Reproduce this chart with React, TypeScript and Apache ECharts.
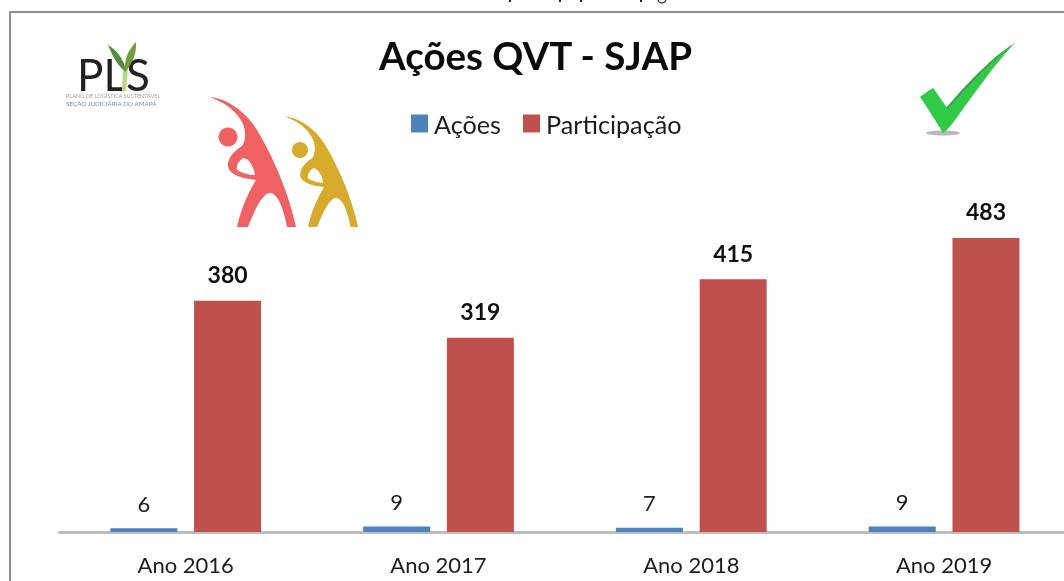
import React, { useEffect, useRef } from "react";
import * as echarts from "echarts";

const categories = ["Ano 2016", "Ano 2017", "Ano 2018", "Ano 2019"];
const acoes = [6, 9, 7, 9];
const participacao = [380, 319, 415, 483];
const titleText = "Ações QVT - SJAP";
const seriesNames = ["Ações", "Participação"];

const FIGURE =
  "M210,97 C225,98 245,110 257,130 C272,155 288,190 296,227 L287,227 C284,210 278,193 270,193 C262,193 254,212 248,227 L237,227 C242,205 250,190 256,180 C248,179 235,177 230,171 C224,163 232,152 242,146 C246,140 246,132 243,124 C236,110 225,103 210,97 Z " +
  "M243,158 C239,161 236,165 237,170 C242,173 249,175 255,175 C254,167 249,158 243,158 Z";
const CHECK =
  "M1015,43 C995,55 972,78 947,107 C942,102 938,94 933,88 C928,91 924,94 920,97 C928,108 936,122 943,133 C950,128 955,120 960,113 C977,90 998,60 1015,43 Z";
const CHECK_EDGE = "M1015,43 C995,55 972,78 947,107 L948,109 C973,81 996,57 1015,43 Z";
const LEAF_LEFT = "M108,45 C116,50 124,58 126,72 C118,67 112,55 108,45 Z";
const LEAF_RIGHT = "M136,42 C137,55 131,65 125,72 C124,60 128,50 136,42 Z";
const STEM = "M123,68 L128,68 L126,91 L122,91 Z";

echarts.graphic.registerShape("figureShape", echarts.graphic.extendPath(FIGURE, {}));
echarts.graphic.registerShape("checkShape", echarts.graphic.extendPath(CHECK, {}));
echarts.graphic.registerShape("checkEdge", echarts.graphic.extendPath(CHECK_EDGE, {}));
echarts.graphic.registerShape("leafLeft", echarts.graphic.extendPath(LEAF_LEFT, {}));
echarts.graphic.registerShape("leafRight", echarts.graphic.extendPath(LEAF_RIGHT, {}));
echarts.graphic.registerShape("stemShape", echarts.graphic.extendPath(STEM, {}));

const FONT = "Lato, 'Open Sans', sans-serif";

export default function App() {
  const ref = useRef<HTMLDivElement>(null);
  useEffect(() => {
    document.body.style.margin = "0";
    const chart = echarts.init(ref.current!, undefined, { renderer: "svg" });
    chart.setOption({
      animation: false,
      backgroundColor: "#ffffff",
      title: {
        text: titleText,
        left: 530.5,
        top: 30,
        textAlign: "center",
        textStyle: { fontFamily: FONT, fontWeight: "bold", fontSize: 38.5, color: "#0a0a0a" },
      },
      legend: {
        data: seriesNames,
        left: 406,
        top: 106,
        icon: "rect",
        itemWidth: 17,
        itemHeight: 18,
        itemGap: 22,
        textStyle: { fontFamily: FONT, fontSize: 25.2, color: "#1c1c1c", padding: [0, 0, 0, 1] },
      },
      grid: { left: 59.3, top: 45, width: 1011.2, height: 487 },
      xAxis: {
        type: "category",
        data: categories,
        axisTick: { show: false },
        axisLine: { lineStyle: { color: "#bdbdbd", width: 3 } },
        axisLabel: { fontFamily: FONT, fontSize: 22, color: "#1c1c1c", margin: 21 },
      },
      yAxis: { type: "value", min: 0, max: 800, show: false },
      series: [
        {
          name: seriesNames[0],
          type: "bar",
          data: acoes,
          barWidth: 67,
          barGap: "25%",
          itemStyle: { color: "#4F81BD" },
          label: {
            show: true,
            position: "top",
            distance: 14,
            fontFamily: FONT,
            fontSize: 22,
            color: "#1c1c1c",
          },
        },
        {
          name: seriesNames[1],
          type: "bar",
          data: participacao,
          barWidth: 67,
          itemStyle: { color: "#C0504D" },
          label: {
            show: true,
            position: "top",
            distance: 15,
            fontFamily: FONT,
            fontWeight: "bold",
            fontSize: 23,
            color: "#0f0f0f",
          },
        },
      ],
      graphic: [
        { type: "rect", shape: { x: 10, y: 12, width: 1100, height: 620 }, style: { fill: "none", stroke: "#8f8f8f", lineWidth: 2 }, silent: true, z: 0 },
        ...[510, 560, 581, 641].map((x) => ({
          type: "line",
          shape: { x1: x, y1: 0, x2: x, y2: 2 },
          style: { stroke: "#222", lineWidth: 2 },
          silent: true,
        })),
        { type: "arc", shape: { cx: 662, cy: -1, r: 4, startAngle: 0, endAngle: Math.PI }, style: { stroke: "#222", fill: "none", lineWidth: 1.2 }, silent: true },
        { type: "figureShape", x: 0, y: 0, style: { fill: "#EF6163" }, silent: true },
        { type: "circle", shape: { cx: 228, cy: 137, r: 9.5 }, style: { fill: "#EF6163" }, silent: true },
        { type: "figureShape", x: 106.5, y: 34.05, scaleX: 0.85, scaleY: 0.85, style: { fill: "#D6AB2C" }, silent: true },
        { type: "circle", shape: { cx: 300, cy: 150, r: 8 }, style: { fill: "#D6AB2C" }, silent: true },
        { type: "ellipse", shape: { cx: 943, cy: 133, rx: 17, ry: 2.5 }, style: { fill: "#8a8a8a", opacity: 0.6 }, silent: true },
        { type: "checkShape", x: 0, y: 0, style: { fill: "#2FCB45" }, silent: true },
        { type: "checkEdge", x: 0, y: 0, style: { fill: "#4c9a5a" }, silent: true },
        { type: "text", x: 77, y: 74, style: { text: "PLS", fontFamily: FONT, fontSize: 44, lineHeight: 36, textVerticalAlign: "middle", fill: "#222222" }, silent: true },
        { type: "stemShape", x: 0, y: 0, style: { fill: "#b9d98a" }, silent: true },
        { type: "leafLeft", x: 0, y: 0, style: { fill: "#4f8f3a" }, silent: true },
        { type: "leafRight", x: 0, y: 0, style: { fill: "#6f9f3c" }, silent: true },
        { type: "text", x: 66, y: 92.5, style: { text: "PLANO DE LOGÍSTICA SUSTENTÁVEL", fontFamily: FONT, fontSize: 5.5, fill: "#a0a0a0" }, silent: true },
        { type: "text", x: 66, y: 100.5, style: { text: "SEÇÃO JUDICIÁRIA DO AMAPÁ", fontFamily: FONT, fontSize: 6.3, fill: "#6f97a8" }, silent: true },
      ],
    });
    return () => chart.dispose();
  }, []);
  return (
    <div style={{ width: 1064, height: 581, overflow: "hidden", filter: "blur(0.5px)" }}>
      <div ref={ref} style={{ width: 1100, height: 581 }} />
    </div>
  );
}
